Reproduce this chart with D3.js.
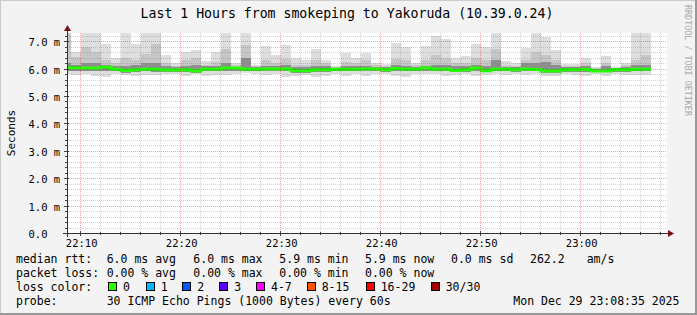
<!DOCTYPE html>
<html><head><meta charset="utf-8">
<script src="https://cdn.jsdelivr.net/npm/d3@7"></script>
<style>
html,body{margin:0;padding:0;background:#f3f3f3;}
svg{display:block;}
text{font-family:"DejaVu Sans Mono",monospace;fill:#000;}
</style></head>
<body>
<svg id="c" width="697" height="315"></svg>
<script>
// ---------- data ----------
const titleText = "Last 1 Hours from smokeping to Yakoruda (10.39.0.24)";
const firstBinStart = "2025-12-29T22:08:00";
const rangeStart = "2025-12-29T22:08:35";
const rangeEnd = "2025-12-29T23:08:35";
// per-minute bins (ms)
const maxV = [7.4,6.6,7.4,7.4,6.91,6.39,7.4,6.91,7.4,7.4,6.5,6.21,6.6,6.68,6.28,6.6,7.4,6.21,7.4,6.15,
  6.82,6.5,6.86,6.39,6.33,6.72,6.33,6.1,6.58,6.39,6.58,6.21,6.17,6.95,6.8,6.21,6.82,7.19,7.08,6.39,
  6.46,6.9,6.79,7.4,6.28,6.19,6.76,7.4,7.15,6.68,6.17,6.17,6.37,6.05,6.46,6.06,6.21,7.4,7.4];
const hiV = [7.4,6.43,6.8,6.6,6.3,6.2,6.4,6.3,6.55,6.9,6.2,6.1,6.3,6.4,6.15,6.25,6.7,6.12,6.85,6.1,
  6.3,6.2,6.35,6.15,6.15,6.3,6.2,6.06,6.25,6.2,6.3,6.12,6.1,6.35,6.3,6.12,6.3,6.5,6.4,6.2,
  6.2,6.4,6.3,6.7,6.15,6.1,6.3,6.6,6.5,6.3,6.1,6.1,6.2,6.02,6.2,6.03,6.12,6.3,6.5];
const midV = [6.2,6.15,6.2,6.2,6.12,6.1,6.1,6.12,6.2,6.2,6.08,6.05,6.1,6.15,6.08,6.1,6.2,6.07,6.4,6.05,
  6.1,6.08,6.12,6.05,6.05,6.1,6.08,6.03,6.1,6.08,6.1,6.06,6.05,6.15,6.1,6.06,6.1,6.12,6.12,6.1,
  6.08,6.15,6.1,6.3,6.07,6.05,6.2,6.2,6.25,6.15,6.05,6.05,6.08,6.0,6.08,6.01,6.06,6.12,6.15];
const medV = [6.03,6.03,6.02,6.02,6.05,5.98,5.93,5.96,5.98,5.98,5.95,5.95,5.96,5.91,5.98,5.98,6.02,6.02,5.98,5.98,
  5.99,5.99,5.99,5.92,5.92,5.96,5.96,5.98,5.98,5.98,5.99,5.99,5.96,6.0,5.98,5.98,6.02,5.98,5.98,5.93,
  5.96,6.02,5.92,5.98,5.98,5.96,5.99,5.97,5.91,5.91,5.96,5.96,5.97,5.91,5.91,5.96,5.96,5.98,5.98];
const loV = [5.9,5.92,5.92,5.9,5.92,5.9,5.85,5.88,5.9,5.88,5.88,5.88,5.88,5.85,5.9,5.9,5.92,5.92,5.9,5.9,
  5.9,5.9,5.9,5.85,5.85,5.88,5.88,5.9,5.9,5.9,5.9,5.9,5.88,5.9,5.9,5.9,5.92,5.9,5.9,5.86,
  5.88,5.92,5.86,5.9,5.9,5.88,5.9,5.9,5.85,5.85,5.88,5.88,5.88,5.87,5.86,5.88,5.88,5.9,5.9];
const minV = [5.8,5.77,5.8,5.73,5.68,5.8,5.77,5.73,5.77,5.77,5.8,5.8,5.73,5.8,5.73,5.76,5.77,5.8,5.85,5.8,
  5.77,5.8,5.68,5.73,5.77,5.68,5.73,5.8,5.73,5.8,5.73,5.8,5.8,5.73,5.68,5.8,5.8,5.8,5.73,5.76,
  5.8,5.73,5.77,5.8,5.77,5.8,5.77,5.8,5.73,5.73,5.8,5.77,5.73,5.8,5.73,5.8,5.76,5.77,5.77];
const yTicks = [0,1,2,3,4,5,6,7];
const yTickLabels = ["0.0","1.0 m","2.0 m","3.0 m","4.0 m","5.0 m","6.0 m","7.0 m"];
const yMax = 7.3;
const legendRtt = ["6.0 ms avg","6.0 ms max","5.9 ms min","5.9 ms now","0.0 ms sd","262.2","am/s"];
const legendLoss = ["0.00 % avg","0.00 % max","0.00 % min","0.00 % now"];
const lossLabels = ["0","1","2","3","4-7","8-15","16-29","30/30"];
const lossColors = ["#26ff00","#00b8ff","#0059ff","#5e00ff","#ff00ff","#ff5500","#ff0000","#a00000"];
const probeText = "30 ICMP Echo Pings (1000 Bytes) every 60s";
const dateText = "Mon Dec 29 23:08:35 2025";

// ---------- layout ----------
const W = 697, H = 315;
const PL = 67, PR = 667, PT = 33, PB = 233;
const svg = d3.select("#c");

// frame
svg.append("rect").attr("x",0).attr("y",0).attr("width",W).attr("height",H).attr("fill","#f3f3f3");
svg.append("rect").attr("x",0).attr("y",0).attr("width",W).attr("height",1).attr("fill","#cbcbcb");
svg.append("rect").attr("x",0).attr("y",0).attr("width",1).attr("height",H).attr("fill","#cbcbcb");
svg.append("rect").attr("x",0).attr("y",H-2).attr("width",W).attr("height",2).attr("fill","#999");
svg.append("rect").attr("x",W-2).attr("y",0).attr("width",2).attr("height",H).attr("fill","#999");

const x = d3.scaleTime().domain([new Date(rangeStart), new Date(rangeEnd)]).range([66.5, 666.5]);
const y = d3.scaleLinear().domain([0, yMax]).range([PB, PT]);

// canvas
svg.append("rect").attr("x",PL).attr("y",PT).attr("width",PR-PL).attr("height",PB-PT).attr("fill","#fff");

svg.append("defs").append("clipPath").attr("id","clip")
  .append("rect").attr("x",PL).attr("y",PT).attr("width",PR-PL).attr("height",PB-PT);

const t0 = new Date(firstBinStart);
const bins = maxV.map((m,i)=>{
  const s = d3.timeMinute.offset(t0, i), e = d3.timeMinute.offset(t0, i+1);
  return {s, e, max:m, hi:hiV[i], mid:midV[i], med:medV[i], lo:loV[i], min:minV[i]};
});

const gData = svg.append("g").attr("clip-path","url(#clip)").attr("shape-rendering","crispEdges");
function layer(top, bot, color){
  gData.append("g").selectAll("rect").data(bins).join("rect")
    .attr("x", d=>Math.round(x(d.s)))
    .attr("width", d=>Math.round(x(d.e))-Math.round(x(d.s)))
    .attr("y", d=>Math.round(y(top(d))))
    .attr("height", d=>Math.max(0,Math.round(y(bot(d)))-Math.round(y(top(d)))))
    .attr("fill", color);
}
layer(d=>d.max, d=>d.min, "#dedede");
layer(d=>d.hi, d=>d.lo, "#c6c6c6");
layer(d=>d.mid, d=>d.lo, "#8e8e8e");
layer(d=>d.med+0.05, d=>d.med-0.05, "#5a5a5a");

// median step line
const medPts = [];
bins.forEach(d=>{ medPts.push([Math.round(x(d.s)), y(d.med)]); medPts.push([Math.round(x(d.e)), y(d.med)]); });
svg.append("g").attr("clip-path","url(#clip)").append("path")
  .attr("d", d3.line()(medPts)).attr("fill","none").attr("stroke","#26ff00").attr("stroke-width",3);

// grid
const gGrid = svg.append("g").attr("shape-rendering","crispEdges");
const minorX = d3.timeMinute.every(2).range(x.domain()[0], x.domain()[1]).filter(t=>t.getMinutes()%10!==0);
const majorX = d3.timeMinute.every(10).range(x.domain()[0], x.domain()[1]);
const minorY = d3.range(0, 7.31, 0.2).filter(v=>Math.abs(v-Math.round(v))>0.01 && v<=yMax);
gGrid.selectAll(".mx").data(minorX).join("line")
  .attr("x1",d=>Math.floor(x(d))+0.5).attr("x2",d=>Math.floor(x(d))+0.5)
  .attr("y1",PT).attr("y2",PB).attr("stroke","rgba(128,128,128,0.37)").attr("stroke-dasharray","1,1");
gGrid.selectAll(".my").data(minorY).join("line")
  .attr("x1",PL).attr("x2",PR)
  .attr("y1",d=>Math.round(y(d))+0.5).attr("y2",d=>Math.round(y(d))+0.5)
  .attr("stroke","rgba(128,128,128,0.37)").attr("stroke-dasharray","1,1");
gGrid.selectAll(".Mx").data(majorX).join("line")
  .attr("x1",d=>Math.floor(x(d))+0.5).attr("x2",d=>Math.floor(x(d))+0.5)
  .attr("y1",PT).attr("y2",PB).attr("stroke","rgba(240,0,0,0.37)").attr("stroke-dasharray","1,1");
gGrid.selectAll(".My").data(yTicks.filter(v=>v>0)).join("line")
  .attr("x1",PL).attr("x2",PR)
  .attr("y1",d=>Math.round(y(d))+0.5).attr("y2",d=>Math.round(y(d))+0.5)
  .attr("stroke","rgba(240,0,0,0.37)").attr("stroke-dasharray","1,1");

// ticks
const gT = svg.append("g").attr("shape-rendering","crispEdges").attr("stroke","#444");
gT.selectAll(".tmx").data(minorX).join("line")
  .attr("x1",d=>Math.floor(x(d))+0.5).attr("x2",d=>Math.floor(x(d))+0.5).attr("y1",PB-1).attr("y2",PB+2);
gT.selectAll(".tMx").data(majorX).join("line")
  .attr("x1",d=>Math.floor(x(d))+0.5).attr("x2",d=>Math.floor(x(d))+0.5).attr("y1",PB-2).attr("y2",PB+3);
gT.selectAll(".tmy").data(minorY).join("line")
  .attr("x1",PL-2).attr("x2",PL+1).attr("y1",d=>Math.round(y(d))+0.5).attr("y2",d=>Math.round(y(d))+0.5);
gT.selectAll(".tMy").data(yTicks).join("line")
  .attr("x1",PL-3).attr("x2",PL+2).attr("y1",d=>Math.round(y(d))+0.5).attr("y2",d=>Math.round(y(d))+0.5);

// axes
svg.append("line").attr("x1",63).attr("x2",669).attr("y1",PB+0.5).attr("y2",PB+0.5)
  .attr("stroke","#333").attr("shape-rendering","crispEdges");
svg.append("line").attr("x1",PL+0.5).attr("x2",PL+0.5).attr("y1",237).attr("y2",30)
  .attr("stroke","#333").attr("shape-rendering","crispEdges");
svg.append("path").attr("d",`M668,${PB-3}L674,${PB+0.5}L668,${PB+4}Z`).attr("fill","#7a1010");
svg.append("path").attr("d",`M${PL-3},31L${PL+0.5},25L${PL+4},31Z`).attr("fill","#7a1010");

// axis labels
svg.append("g").selectAll("text").data(majorX).join("text")
  .attr("x",d=>x(d)+1).attr("y",247).attr("text-anchor","middle").attr("font-size","10.5px")
  .text(d=>d3.timeFormat("%H:%M")(d));
svg.append("g").selectAll("text").data(yTicks).join("text")
  .attr("x",28.5).attr("y",d=>Math.round(y(d))+4.5).attr("font-size","10.5px")
  .text((d,i)=>yTickLabels[i]);
svg.append("text").attr("transform","translate(15,133) rotate(-90)").attr("text-anchor","middle")
  .attr("font-size","11px").text("Seconds");

// title
svg.append("text").attr("x",347).attr("y",18).attr("text-anchor","middle").attr("font-size","13.2px").text(titleText);

// watermark
svg.append("text").attr("transform","translate(685,5) rotate(90)").attr("font-size","8.4px")
  .style("fill","#a8a8a8").text("RRDTOOL / TOBI OETIKER");

// legend
const fs = "11.5px";
const r1 = 263, r2 = 276.5, r3 = 290.5, r4 = 304.5;
function T(xp, yp, s){ svg.append("text").attr("x",xp).attr("y",yp).attr("font-size",fs).attr("xml:space","preserve").text(s); }
T(16, r1, "median rtt:");
const rttX = [106.7,193.3,279.3,365,451,530,586.7];
legendRtt.forEach((s,i)=>T(rttX[i], r1, s));
T(16, r2, "packet loss:");
legendLoss.forEach((s,i)=>T(rttX[i], r2, s));
T(16, r3, "loss color:");
const boxX = [108,145.7,182.3,219.3,256,306.7,365.7,430.7];
lossLabels.forEach((s,i)=>{
  svg.append("rect").attr("x",boxX[i]+0.5).attr("y",r3-8.5).attr("width",8).attr("height",8)
    .attr("fill",lossColors[i]).attr("stroke","#000").attr("stroke-width",1).attr("shape-rendering","crispEdges");
  T(boxX[i]+15, r3, s);
});
T(16, r4, "probe:");
T(106.7, r4, probeText);
T(513.3, r4, dateText);
</script>
</body></html>
